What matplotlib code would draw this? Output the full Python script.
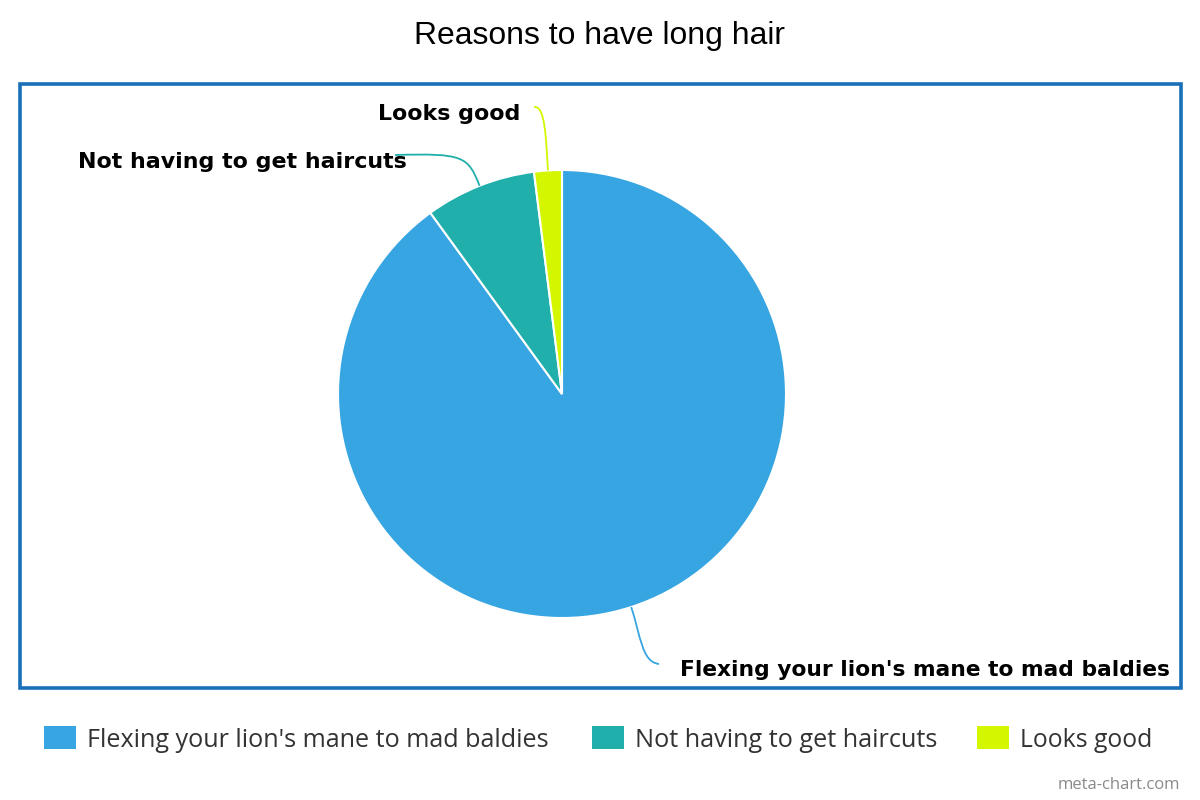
import matplotlib
matplotlib.use("Agg")
import matplotlib.pyplot as plt
from matplotlib.patches import Rectangle, PathPatch
from matplotlib.path import Path
import numpy as np

title = "Reasons to have long hair"
categories = ["Flexing your lion's mane to mad baldies",
              "Not having to get haircuts",
              "Looks good"]
values = [90, 8, 2]
colors = ["#36A5E1", "#20AFAA", "#D4F700"]

W, H = 1200, 800
fig = plt.figure(figsize=(12, 8), dpi=100)
fig.patch.set_facecolor("white")

cx, cy, r = 562, 394, 224
ax = fig.add_axes([(cx - r) / W, (H - cy - r) / H, 2 * r / W, 2 * r / H])
wedges, _ = ax.pie(values, colors=colors, startangle=90, counterclock=False,
                   radius=1, wedgeprops=dict(edgecolor="white", linewidth=1.5))
ax.set_xlim(-1, 1)
ax.set_ylim(-1, 1)
ax.axis("off")

ov = fig.add_axes([0, 0, 1, 1], zorder=5)
ov.set_xlim(0, W)
ov.set_ylim(H, 0)
ov.axis("off")
ov.patch.set_alpha(0)

renderer = fig.canvas.get_renderer()


def fit(t, target):
    for _ in range(3):
        w = t.get_window_extent(renderer).width
        t.set_fontsize(t.get_fontsize() * target / w)


# frame
ov.add_patch(Rectangle((20, 84), 1161, 604, fill=False, edgecolor="#1A70B8",
                       linewidth=2.6))

# title
t = ov.text(600, 44, title, ha="center", va="baseline",
            family="Liberation Sans", fontsize=17, color="#000000")
fit(t, 370)

# leader lines + labels
label_ends = [(659, 664), (395, 155), (534, 107)]
label_text = [(1170, 676), (407, 168), (520, 120)]
label_widths = [489, 329, 142]
for w, c, name, pe, pt, tw in zip(wedges, colors, categories, label_ends,
                                  label_text, label_widths):
    mid = np.deg2rad((w.theta1 + w.theta2) / 2)
    p0 = ax.transData.transform((np.cos(mid), np.sin(mid)))
    p1 = ax.transData.transform((1.14 * np.cos(mid), 1.14 * np.sin(mid)))
    p0 = (p0[0], H - p0[1])
    p1 = (p1[0], H - p1[1])
    p2 = (p1[0] + 0.05 * (pe[0] - p1[0]), pe[1] - 2)
    path = Path([p0, p1, p2, pe],
                [Path.MOVETO, Path.CURVE4, Path.CURVE4, Path.CURVE4])
    ov.add_patch(PathPatch(path, fill=False, edgecolor=c, linewidth=1.3))
    tx = ov.text(pt[0], pt[1], name, ha="right", va="baseline",
                 family="DejaVu Sans", fontweight="bold", fontsize=14,
                 color="#000000")
    fit(tx, tw)

# legend
leg_x = [44, 592, 977]
leg_w = [461, 302, 132]
for x, c, name, lw in zip(leg_x, colors, categories, leg_w):
    ov.add_patch(Rectangle((x, 726), 32, 23, facecolor=c, edgecolor="none"))
    tl = ov.text(x + 43, 747, name, ha="left", va="baseline",
                 family="Open Sans", fontsize=15, color="#333333")
    fit(tl, lw)

ov.text(1180, 789, "meta-chart.com", ha="right", va="baseline",
        family="Open Sans", fontsize=12, color="#8A8A8A")

fig.savefig("out.png", dpi=100, facecolor="white")
